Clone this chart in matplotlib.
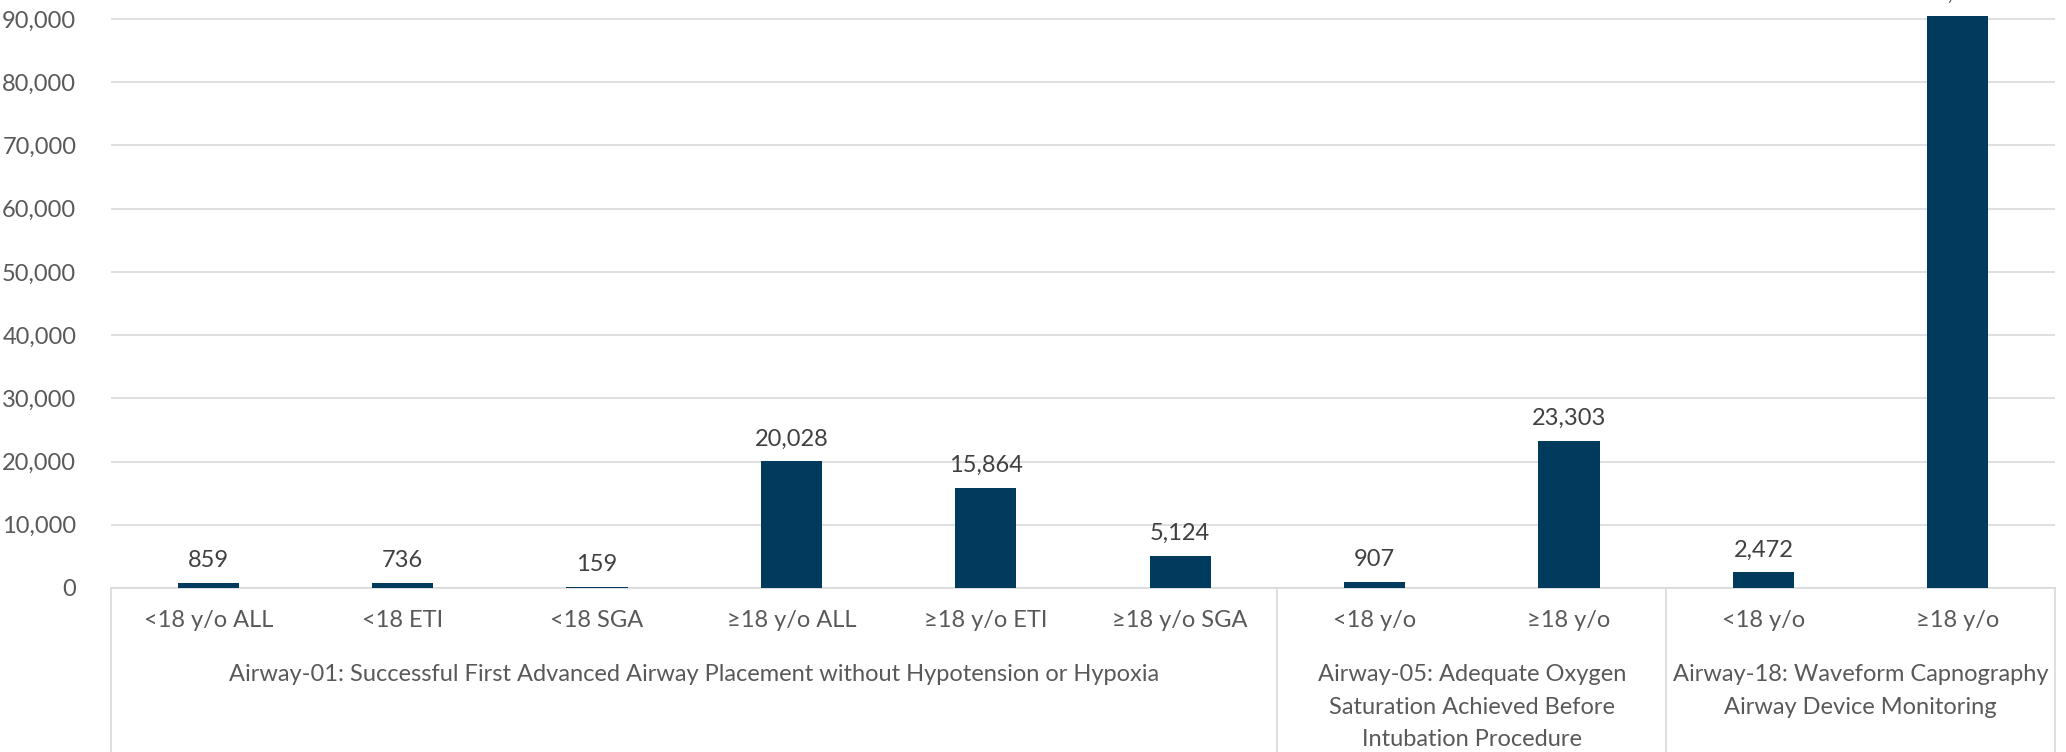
import matplotlib
matplotlib.use("Agg")
import matplotlib.pyplot as plt
from matplotlib.transforms import blended_transform_factory

categories = ["<18 y/o ALL", "<18 ETI", "<18 SGA", "≥18 y/o ALL", "≥18 y/o ETI", "≥18 y/o SGA",
              "<18 y/o", "≥18 y/o", "<18 y/o", "≥18 y/o"]
values = [859, 736, 159, 20028, 15864, 5124, 907, 23303, 2472, 90540]
groups = ["Airway-01: Successful First Advanced Airway Placement without Hypotension or Hypoxia",
          "Airway-05: Adequate Oxygen\nSaturation Achieved Before\nIntubation Procedure",
          "Airway-18: Waveform Capnography\nAirway Device Monitoring"]
group_sizes = [6, 2, 2]
yticks = [0, 10000, 20000, 30000, 40000, 50000, 60000, 70000, 80000, 90000]

plt.rcParams['font.family'] = ['Lato', 'DejaVu Sans']
W, H = 2066, 752
fig = plt.figure(figsize=(W/100, H/100), dpi=100)
left, right = 111/W, 2055/W
bottom = (H-588)/H
ax = fig.add_axes([left, bottom, right-left, 1-bottom])
text_c = "#595959"
bar_c = "#003A5C"
grid_c = "#D9D9D9"
fs = 17

x = list(range(len(categories)))
bars = ax.bar(x, values, width=0.315, color=bar_c, zorder=3, clip_on=False)
ax.set_xlim(-0.5, len(categories)-0.5)
ax.set_ylim(0, 90000*588/569)
ax.set_yticks(yticks)
ax.set_yticklabels([f"{v:,}" for v in yticks], fontsize=fs, color=text_c)
ax.tick_params(axis='y', length=0, pad=25)
ax.yaxis.grid(True, color=grid_c, linewidth=1.2, zorder=0)
for s in ['top', 'right', 'left']:
    ax.spines[s].set_visible(False)
ax.spines['bottom'].set_color(grid_c)
ax.spines['bottom'].set_linewidth(1.2)
ax.set_xticks(x)
ax.set_xticklabels(categories, fontsize=fs, color=text_c)
ax.tick_params(axis='x', length=0, pad=16)

for xi, v in zip(x, values):
    ax.annotate(f"{v:,}", (xi, v), xytext=(0, 12), textcoords='offset pixels',
                ha='center', va='bottom', fontsize=fs, color="#404040", clip_on=False,
                annotation_clip=False)

trans = blended_transform_factory(ax.transData, fig.transFigure)
bounds = [-0.5]
for g in group_sizes:
    bounds.append(bounds[-1] + g)
for b in bounds:
    ax.plot([b, b], [0, bottom], transform=trans, color=grid_c, linewidth=1.2, clip_on=False)
for i, g in enumerate(groups):
    cx = (bounds[i] + bounds[i+1]) / 2
    ax.text(cx, (H-664)/H, g, transform=trans, ha='center', va='top', fontsize=fs,
            color=text_c, linespacing=1.68)

fig.savefig("out.png", dpi=100)
